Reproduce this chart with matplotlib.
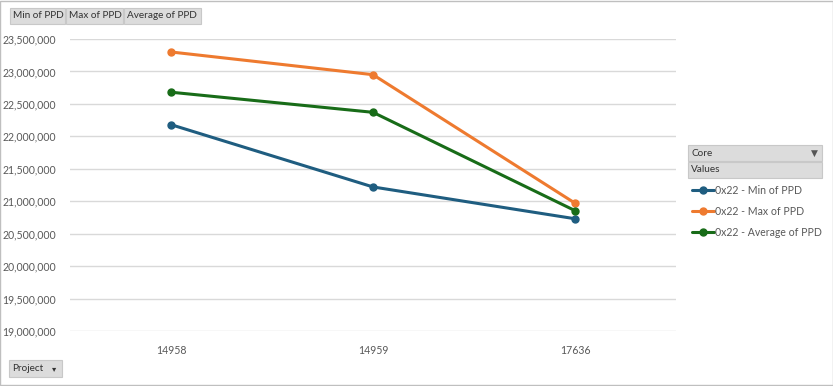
import matplotlib
matplotlib.use("Agg")
import matplotlib.pyplot as plt
from matplotlib.patches import Rectangle
from matplotlib.ticker import FuncFormatter

# data
projects = ["14958", "14959", "17636"]
min_ppd = [22180000, 21220000, 20730000]
max_ppd = [23300000, 22950000, 20970000]
avg_ppd = [22680000, 22370000, 20855000]
series_names = ["0x22 - Min of PPD", "0x22 - Max of PPD", "0x22 - Average of PPD"]
series_colors = ["#1F5D80", "#EE7A2F", "#186C18"]
field_buttons = ["Min of PPD", "Max of PPD", "Average of PPD"]

plt.rcParams['font.family'] = ['Lato', 'DejaVu Sans']

W, H = 833, 386
fig = plt.figure(figsize=(W / 100, H / 100), dpi=100)
fig.patch.set_facecolor("white")

def fx(px):
    return px / W

def fy(py):
    return 1 - py / H

ax = fig.add_axes([fx(70), fy(331), fx(676) - fx(70), fy(39) - fy(331)])
xs = range(len(projects))
for vals, name, col in zip([min_ppd, max_ppd, avg_ppd], series_names, series_colors):
    ax.plot(xs, vals, color=col, lw=2.2, marker="o", ms=5, label=name,
            solid_capstyle="round", zorder=3)

ax.set_xlim(-0.5, len(projects) - 0.5)
ax.set_ylim(19000000, 23500000)
ax.set_yticks(range(19000000, 23500001, 500000))
ax.yaxis.set_major_formatter(FuncFormatter(lambda v, p: f"{int(v):,}"))
ax.set_xticks(list(xs))
ax.set_xticklabels(projects)
ax.grid(axis="y", color="#D9D9D9", lw=1)
ax.set_axisbelow(True)
for s in ax.spines.values():
    s.set_visible(False)
ax.tick_params(length=0, labelsize=7.6, labelcolor="#595959")
ax.tick_params(axis="y", pad=10)
ax.tick_params(axis="x", pad=10)

# outer border
fig.add_artist(Rectangle((0.0006, 0.0013), 0.9988, 0.9974, transform=fig.transFigure,
                         fill=False, ec="#BFBFBF", lw=1))

def button(x0, y0, x1, y1, label, arrow=False):
    fig.add_artist(Rectangle((fx(x0), fy(y1)), fx(x1) - fx(x0), fy(y0) - fy(y1),
                             transform=fig.transFigure, fc="#DCDCDC", ec="#C8C8C8", lw=0.8))
    fig.text(fx(x0 + 3), fy((y0 + y1) / 2), label, fontsize=7.2, color="#333333",
             va="center", ha="left")
    if arrow:
        fig.text(fx(x1 - 8), fy((y0 + y1) / 2), "\u25be", fontsize=6, color="#333333",
                 va="center", ha="center", family="DejaVu Sans")

# field buttons at the top
bx = [(10, 65), (66, 123), (124, 201)]
for (a, b), lab in zip(bx, field_buttons):
    button(a, 8, b, 24, lab)

# project button bottom left
button(9, 360, 62, 377, "Project", arrow=True)

# legend header boxes
button(688, 145, 822, 161, "Core")
fig.text(fx(814), fy(153), "\u25bc", fontsize=6.5, color="#555555", va="center", ha="center",
         family="DejaVu Sans")
button(688, 162, 822, 178, "Values")

fig.legend(*ax.get_legend_handles_labels(), loc="upper left",
           bbox_to_anchor=(fx(690), fy(183)), frameon=False, fontsize=7.6,
           handlelength=2.1, handletextpad=0.05, labelspacing=0.95, borderaxespad=0,
           borderpad=0.2, labelcolor="#595959")

fig.savefig("out.png", dpi=100)
